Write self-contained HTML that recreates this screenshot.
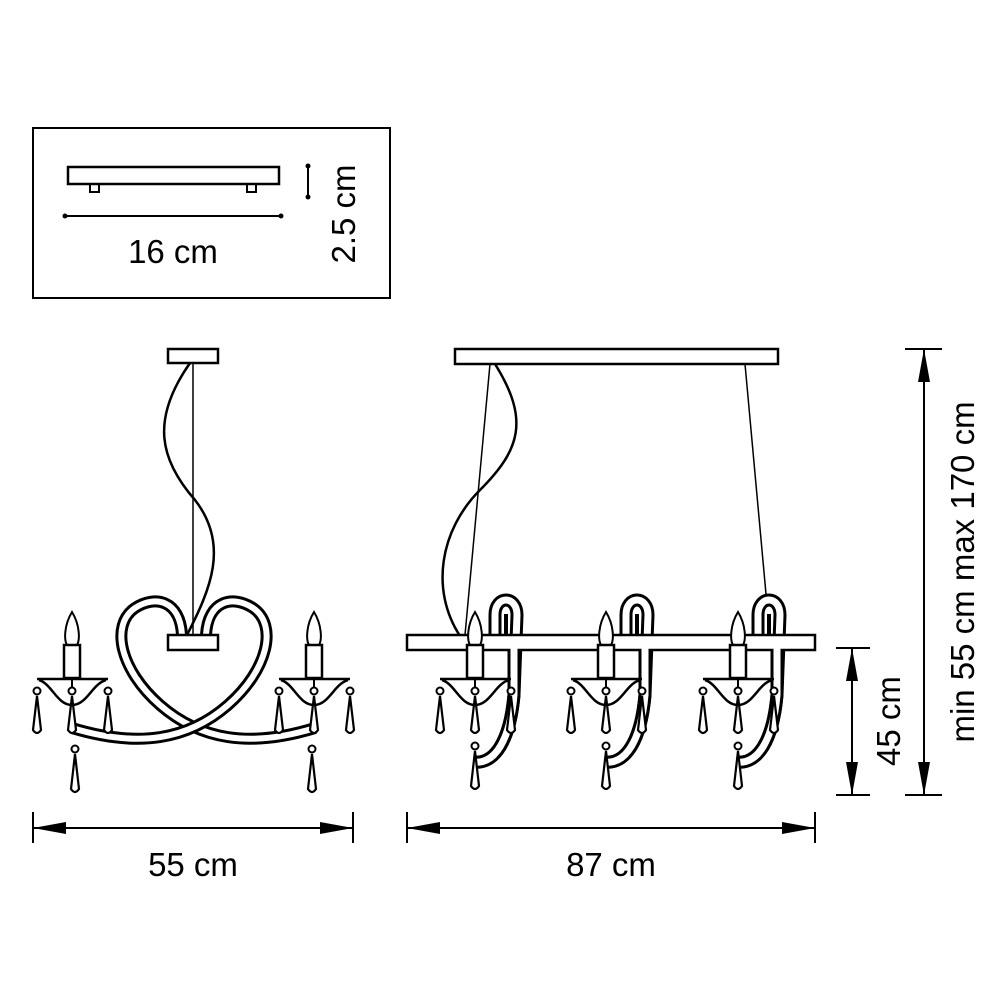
<!DOCTYPE html>
<html><head><meta charset="utf-8"><style>html,body{margin:0;padding:0;background:#fff}svg{display:block}</style></head>
<body>
<svg width="1000" height="1000" viewBox="0 0 1000 1000" xmlns="http://www.w3.org/2000/svg" font-family="Liberation Sans, sans-serif">
<defs>
<g id="arm">
  <path d="M0,-68 C-8,-55 -8,-40 -5,-35 L5,-35 C8,-40 8,-55 0,-68 Z" fill="#fff" stroke="#000" stroke-width="2"/>
  <rect x="-8" y="-35" width="16" height="33" fill="#fff" stroke="#000" stroke-width="2.5"/>
  <line x1="-35" y1="-1" x2="36" y2="-1" stroke="#000" stroke-width="2.5"/>
  <path d="M-33,0 C-20,4 -15,25 0,25 C15,25 20,4 34,0" fill="none" stroke="#000" stroke-width="2.5"/>
  <line x1="0" y1="-1" x2="0" y2="12" stroke="#000" stroke-width="2"/>
  <circle cx="-35" cy="11" r="3.5" fill="#fff" stroke="#000" stroke-width="2"/>
  <circle cx="0" cy="11" r="3.5" fill="#fff" stroke="#000" stroke-width="2"/>
  <circle cx="36" cy="11" r="3.5" fill="#fff" stroke="#000" stroke-width="2"/>
  <path d="M-35,16 L-39,50 Q-35,56 -31,50 Z" fill="#fff" stroke="#000" stroke-width="2.2"/>
  <path d="M0,16 L-4,50 Q0,56 4,50 Z" fill="#fff" stroke="#000" stroke-width="2.2"/>
  <path d="M36,16 L32,50 Q36,56 40,50 Z" fill="#fff" stroke="#000" stroke-width="2.2"/>
</g>
<g id="drop">
  <circle cx="0" cy="0" r="3.5" fill="#fff" stroke="#000" stroke-width="2"/>
  <path d="M0,5 L-4,40 Q0,46 4,40 Z" fill="#fff" stroke="#000" stroke-width="2.2"/>
</g>
<g id="loop">
  <path d="M0,45 L0,15 C0,-5 22,-5 22,15 L19,95 C15,140 0,165 -22,162" fill="none" stroke="#000" stroke-width="13"/>
  <path d="M0,45 L0,15 C0,-5 22,-5 22,15 L19,95 C15,140 0,165 -22,162" fill="none" stroke="#fff" stroke-width="7"/>
  <line x1="11" y1="14" x2="11" y2="40" stroke="#000" stroke-width="4"/>
</g>
</defs>

<rect x="33" y="128" width="357" height="170" fill="none" stroke="#000" stroke-width="2"/>
<rect x="68" y="167" width="211" height="17" fill="none" stroke="#000" stroke-width="2.5"/>
<rect x="90" y="184" width="9" height="8" fill="none" stroke="#000" stroke-width="2"/>
<rect x="247" y="184" width="9" height="8" fill="none" stroke="#000" stroke-width="2"/>
<line x1="65" y1="216" x2="281" y2="216" stroke="#000" stroke-width="2"/>
<circle cx="65" cy="216" r="2.5"/><circle cx="281" cy="216" r="2.5"/>
<line x1="308" y1="166" x2="308" y2="197" stroke="#000" stroke-width="2"/>
<circle cx="308" cy="166" r="2.5"/><circle cx="308" cy="197" r="2.5"/>
<text x="173" y="263" font-size="33" text-anchor="middle">16 cm</text>
<text transform="translate(355,214) rotate(-90)" font-size="33" text-anchor="middle">2.5 cm</text>

<rect x="168" y="349" width="50" height="14" fill="#fff" stroke="#000" stroke-width="2.5"/>
<line x1="193" y1="363" x2="193" y2="635" stroke="#000" stroke-width="1.5"/>
<path d="M190,363 C150,420 160,460 195,500 C230,545 210,590 187,635" fill="none" stroke="#000" stroke-width="2.5"/>
<g fill="none">
<path d="M182,635 C180,600 155,595 135,608 C110,625 120,670 160,705 C200,740 250,748 315,728" stroke="#000" stroke-width="12"/>
<path d="M182,635 C180,600 155,595 135,608 C110,625 120,670 160,705 C200,740 250,748 315,728" stroke="#fff" stroke-width="6"/>
<path d="M206,635 C208,600 233,595 253,608 C278,625 268,670 228,705 C188,740 138,748 72,728" stroke="#000" stroke-width="12"/>
<path d="M206,635 C208,600 233,595 253,608 C278,625 268,670 228,705 C188,740 138,748 72,728" stroke="#fff" stroke-width="6"/>
</g>
<rect x="168" y="635" width="50" height="15" fill="#fff" stroke="#000" stroke-width="2.5"/>
<use href="#arm" x="72" y="680"/>
<use href="#arm" x="314" y="680"/>
<use href="#drop" x="75" y="749"/>
<use href="#drop" x="312" y="749"/>

<rect x="455" y="349" width="323" height="15" fill="#fff" stroke="#000" stroke-width="2.5"/>
<line x1="490" y1="364" x2="465" y2="635" stroke="#000" stroke-width="1.5"/>
<line x1="745" y1="364" x2="767" y2="605" stroke="#000" stroke-width="1.5"/>
<path d="M495,364 C530,420 520,450 480,490 C440,530 430,590 460,636" fill="none" stroke="#000" stroke-width="2.5"/>
<use href="#loop" x="495" y="600"/>
<use href="#loop" x="626" y="600"/>
<use href="#loop" x="758" y="600"/>
<rect x="407" y="635" width="408" height="15" fill="#fff" stroke="#000" stroke-width="2.5"/>
<g fill="none" stroke="#000" stroke-width="13">
 <path d="M514,650 L514,695 C510,740 495,765 473,762"/>
 <path d="M645,650 L645,695 C641,740 626,765 604,762"/>
 <path d="M777,650 L777,695 C773,740 758,765 736,762"/>
</g>
<g fill="none" stroke="#fff" stroke-width="7">
 <path d="M514,648 L514,695 C510,740 495,765 473,762"/>
 <path d="M645,648 L645,695 C641,740 626,765 604,762"/>
 <path d="M777,648 L777,695 C773,740 758,765 736,762"/>
</g>
<use href="#arm" x="475" y="680"/>
<use href="#arm" x="606" y="680"/>
<use href="#arm" x="738" y="680"/>
<use href="#drop" x="475" y="746"/>
<use href="#drop" x="606" y="746"/>
<use href="#drop" x="738" y="746"/>

<g stroke="#000" stroke-width="2">
 <line x1="33" y1="828" x2="353" y2="828"/>
 <line x1="33" y1="812" x2="33" y2="843"/>
 <line x1="353" y1="812" x2="353" y2="843"/>
 <line x1="407" y1="828" x2="815" y2="828"/>
 <line x1="407" y1="812" x2="407" y2="843"/>
 <line x1="815" y1="812" x2="815" y2="843"/>
 <line x1="852" y1="648" x2="852" y2="795"/>
 <line x1="836" y1="648" x2="870" y2="648"/>
 <line x1="836" y1="795" x2="870" y2="795"/>
 <line x1="924" y1="349" x2="924" y2="795"/>
 <line x1="905" y1="349" x2="942" y2="349"/>
 <line x1="905" y1="795" x2="942" y2="795"/>
</g>
<g fill="#000">
 <path d="M33,828 L66,822 L66,834 Z"/>
 <path d="M353,828 L320,822 L320,834 Z"/>
 <path d="M407,828 L440,822 L440,834 Z"/>
 <path d="M815,828 L782,822 L782,834 Z"/>
 <path d="M852,648 L846,681 L858,681 Z"/>
 <path d="M852,795 L846,762 L858,762 Z"/>
 <path d="M924,349 L918,382 L930,382 Z"/>
 <path d="M924,795 L918,762 L930,762 Z"/>
</g>
<text x="193" y="876" font-size="33" text-anchor="middle">55 cm</text>
<text x="611" y="876" font-size="33" text-anchor="middle">87 cm</text>
<text transform="translate(900,721) rotate(-90)" font-size="33" text-anchor="middle">45 cm</text>
<text transform="translate(974,572) rotate(-90)" font-size="33" text-anchor="middle">min 55 cm max 170 cm</text>
</svg>
</body></html>
